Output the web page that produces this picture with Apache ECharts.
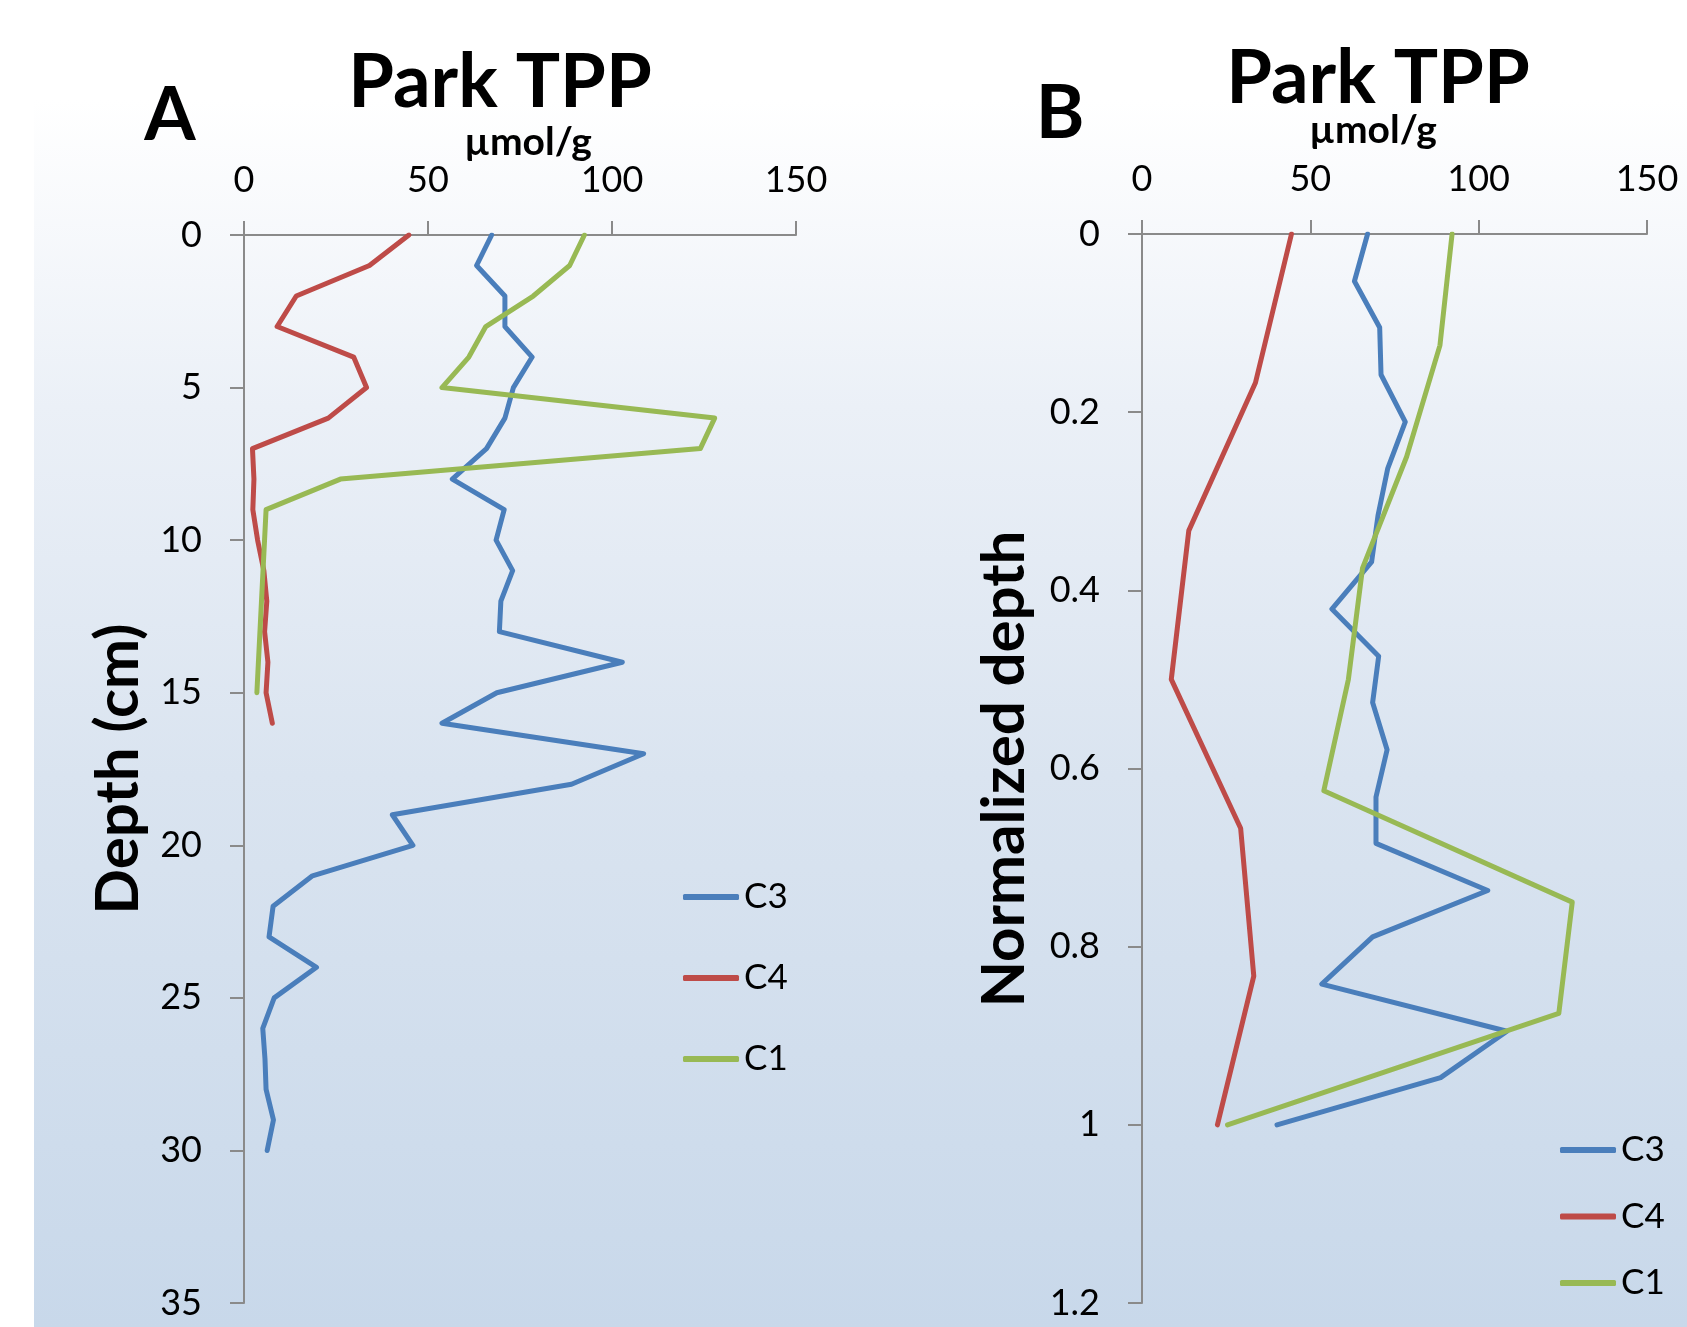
<!DOCTYPE html>
<html>
<head>
<meta charset="utf-8">
<script src="https://cdn.jsdelivr.net/npm/echarts@6/dist/echarts.min.js"></script>
<style>html,body{margin:0;padding:0;background:#fff}#c{width:1687px;height:1327px}</style>
</head>
<body>
<div id="c"></div>
<script>
// ---- Panel A data (depth in cm) ----
const depthC3A = [0,1,2,3,4,5,6,7,8,9,10,11,12,13,14,15,16,17,18,19,20,21,22,23,24,25,26,27,28,29,30];
const c3A = [67.3,63.2,70.9,70.9,78.3,73.2,70.9,65.9,56.6,70.7,68.5,73.0,69.8,69.4,102.8,68.7,53.8,108.6,89.0,40.3,45.9,18.6,7.9,6.8,19.7,8.2,5.1,5.7,6.0,8.0,6.3];
const depthC4A = [0,1,2,3,4,5,6,7,8,9,10,11,12,13,14,15,16];
const c4A = [44.8,34.1,14.2,9.0,29.8,33.3,22.9,2.3,2.7,2.4,3.7,5.4,6.2,5.6,6.5,6.0,7.7];
const depthC1A = [0,1,2,3,4,5,6,7,8,9,15];
const c1A = [92.5,88.5,78.6,65.7,61.1,53.8,127.9,124.0,26.2,6.0,3.5];

// ---- Panel B data (normalized depth) ----
const depthC3B = [0,0.053,0.105,0.158,0.211,0.263,0.316,0.368,0.421,0.474,0.526,0.579,0.632,0.684,0.737,0.789,0.842,0.895,0.947,1];
const c3B = [67.0,63.1,70.6,71.0,78.2,73.0,70.1,68.2,56.4,70.3,68.5,72.8,69.5,69.5,102.7,68.5,53.4,108.4,88.7,40.1];
const depthC4B = [0,0.167,0.333,0.5,0.667,0.833,1];
const c4B = [44.4,33.7,13.9,8.7,29.3,33.2,22.4];
const depthC1B = [0,0.125,0.25,0.375,0.5,0.625,0.75,0.875,1];
const c1B = [92.1,88.5,78.6,65.5,61.3,54.0,127.8,123.8,25.4];

const seriesNames = ['C3','C4','C1'];
const colors = {C3:'#4A7EBB', C4:'#BE4B48', C1:'#98B954'};

const FONT = 'Lato, "Open Sans", sans-serif';
const AX = '#8a8a8a';

function pairs(vals, depths){ return vals.map((v,i)=>[v, depths[i]]); }

function xAxisCfg(gridIndex){
  return {
    gridIndex, type:'value', position:'top', min:0, max:150, interval:50,
    axisLine:{show:true, lineStyle:{color:AX, width:2}},
    axisTick:{show:true, inside:false, length:14, lineStyle:{color:AX, width:2}},
    axisLabel:{fontSize:36, fontFamily:FONT, color:'#000', margin:37},
    splitLine:{show:false}
  };
}
function yAxisCfg(gridIndex, max, interval){
  return {
    gridIndex, type:'value', inverse:true, min:0, max, interval,
    axisLine:{show:true, onZero:false, lineStyle:{color:AX, width:2}},
    axisTick:{show:true, inside:false, length:14, lineStyle:{color:AX, width:2}},
    axisLabel:{fontSize:36, fontFamily:FONT, color:'#000', margin:42},
    splitLine:{show:false}
  };
}
function line(name, data, idx){
  return {
    name, type:'line', xAxisIndex:idx, yAxisIndex:idx, data,
    symbol:'none', smooth:false, animation:false,
    lineStyle:{color:colors[name], width:5, cap:'round', join:'round'},
    itemStyle:{color:colors[name]}
  };
}
function legendCfg(left, top, gap){
  return {
    left, top, orient:'vertical', padding:0, itemGap:gap,
    itemWidth:56, itemHeight:6, icon:'roundRect',
    data:seriesNames,
    textStyle:{fontSize:35, fontFamily:FONT, color:'#000', lineHeight:36}
  };
}
function txt(text, x, y, size, bold, rot){
  return {
    type:'text', x, y, rotation: rot||0, z:10, silent:true,
    style:{text, fill:'#000', font:(bold?'bold ':'')+size+'px '+FONT, align:'center', verticalAlign:'middle'}
  };
}

const chart = echarts.init(document.getElementById('c'), null, {renderer:'canvas'});
chart.setOption({
  backgroundColor:'#ffffff',
  animation:false,
  graphic:[
    {type:'rect', z:-100, silent:true, shape:{x:34, y:100, width:1653, height:1227},
     style:{fill:new echarts.graphic.LinearGradient(0,0,0,1,[
       {offset:0, color:'#ffffff'},
       {offset:0.25, color:'#ebf0f7'},
       {offset:0.55, color:'#dae4f0'},
       {offset:1, color:'#c8d8ea'}
     ])}},
    txt('Park TPP', 500, 83, 74, true),
    txt('A', 170, 116, 74, true),
    txt('\u00b5mol/g', 528, 142, 39, true),
    txt('Park TPP', 1378, 79, 74, true),
    txt('B', 1060, 114, 74, true),
    txt('\u00b5mol/g', 1373, 130, 39, true),
    txt('Depth (cm)', 119, 769, 60, true, Math.PI/2),
    txt('Normalized depth', 1005, 769, 60, true, Math.PI/2)
  ],
  grid:[
    {left:244, top:235, width:552, height:1068, containLabel:false, outerBoundsMode:'none'},
    {left:1142, top:234, width:505, height:1069, containLabel:false, outerBoundsMode:'none'}
  ],
  xAxis:[xAxisCfg(0), xAxisCfg(1)],
  yAxis:[yAxisCfg(0, 35, 5), yAxisCfg(1, 1.2, 0.2)],
  legend:[legendCfg(683, 879, 45), legendCfg(1560, 1132, 30.5)],
  series:[
    line('C3', pairs(c3A, depthC3A), 0),
    line('C4', pairs(c4A, depthC4A), 0),
    line('C1', pairs(c1A, depthC1A), 0),
    line('C3', pairs(c3B, depthC3B), 1),
    line('C4', pairs(c4B, depthC4B), 1),
    line('C1', pairs(c1B, depthC1B), 1)
  ]
});
</script>
</body>
</html>
